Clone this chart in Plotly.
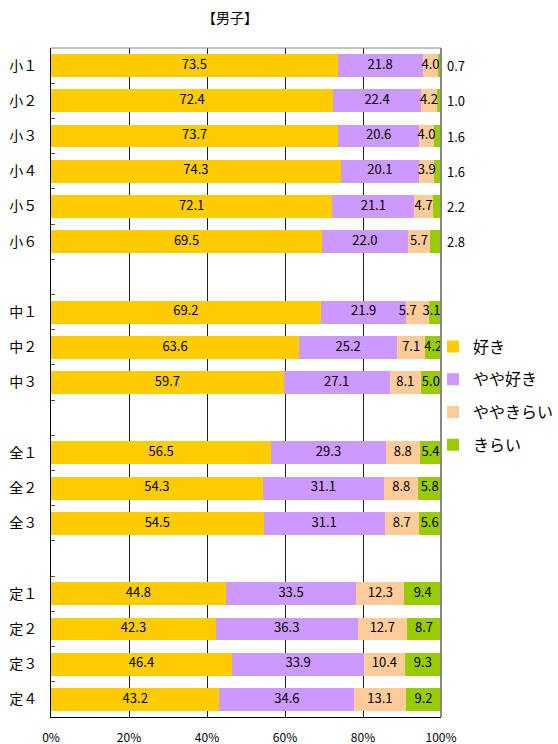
import plotly.graph_objects as go

# Category slots; blank names leave gaps between school stages
categories = ["小１", "小２", "小３", "小４", "小５", "小６", " ",
              "中１", "中２", "中３", "  ",
              "全１", "全２", "全３", "   ",
              "定１", "定２", "定３", "定４"]

series_names = ["好き", "やや好き", "ややきらい", "きらい"]
colors = ["#FFCC00", "#CC99FF", "#FFCC99", "#99CC00"]

suki = [73.5, 72.4, 73.7, 74.3, 72.1, 69.5, None, 69.2, 63.6, 59.7, None,
        56.5, 54.3, 54.5, None, 44.8, 42.3, 46.4, 43.2]
yaya_suki = [21.8, 22.4, 20.6, 20.1, 21.1, 22.0, None, 21.9, 25.2, 27.1, None,
             29.3, 31.1, 31.1, None, 33.5, 36.3, 33.9, 34.6]
yaya_kirai = [4.0, 4.2, 4.0, 3.9, 4.7, 5.7, None, 5.7, 7.1, 8.1, None,
              8.8, 8.8, 8.7, None, 12.3, 12.7, 10.4, 13.1]
kirai = [0.7, 1.0, 1.6, 1.6, 2.2, 2.8, None, 3.1, 4.2, 5.0, None,
         5.4, 5.8, 5.6, None, 9.4, 8.7, 9.3, 9.2]

x_ticks = [0, 20, 40, 60, 80, 100]
x_tick_labels = ["0%", "20%", "40%", "60%", "80%", "100%"]

all_series = [suki, yaya_suki, yaya_kirai, kirai]
font_jp = "Noto Sans CJK JP"
LABEL_SIZE = 13
OUTSIDE_LIMIT = 3.0  # segments narrower than this get their label past the bar end
# Small horizontal nudges (in % units) for labels that would otherwise collide
label_nudge = {("ややきらい", "中１"): -2.5, ("きらい", "中１"): -0.8}

fig = go.Figure()

for i, (name, vals, col) in enumerate(zip(series_names, all_series, colors)):
    fig.add_trace(go.Bar(
        y=categories, x=vals, name=name, orientation="h",
        marker=dict(color=col, line=dict(width=0)),
        textposition="none", legendgroup=name, hoverinfo="x+name",
    ))

# Value labels at segment centres (computed from the cumulative sums)
outside_notes = []
base = [0.0] * len(categories)
for i, vals in enumerate(all_series):
    name = series_names[i]
    xs_in, ys_in, ts_in = [], [], []
    for k, v in enumerate(vals):
        if v is None:
            continue
        cat = categories[k]
        if i == len(all_series) - 1 and v < OUTSIDE_LIMIT:
            # thin segment: label sits just past the right edge of the plot
            outside_notes.append(dict(
                x=1, y=cat, xref="x domain", yref="y", text=f"{v:.1f}",
                showarrow=False, xanchor="left", yanchor="middle", xshift=4,
                font=dict(family=font_jp, size=LABEL_SIZE, color="#000000"),
            ))
        else:
            xs_in.append(base[k] + v / 2 + label_nudge.get((name, cat), 0.0))
            ys_in.append(cat)
            ts_in.append(f"{v:.1f}")
        base[k] += v
    fig.add_trace(go.Scatter(
        x=xs_in, y=ys_in, text=ts_in, mode="text", textposition="middle center",
        textfont=dict(family=font_jp, size=LABEL_SIZE, color="#000000"),
        showlegend=False, hoverinfo="skip", cliponaxis=False,
    ))

fig.update_layout(
    width=558, height=744,
    margin=dict(l=51, r=117, t=48, b=27, autoexpand=False),
    paper_bgcolor="white", plot_bgcolor="white",
    barmode="stack", bargap=0.35,
    font=dict(family=font_jp, color="#000000"),
    title=dict(text="【男子】", x=230 / 558, xanchor="center", xref="container",
               y=1 - 18 / 744, yanchor="middle", yref="container",
               font=dict(family=font_jp, size=14, color="#000000")),
    legend=dict(x=433 / 558, xanchor="left", xref="container",
                y=1 - 396 / 744, yanchor="middle", yref="container",
                traceorder="grouped", tracegroupgap=9, itemwidth=30,
                font=dict(family=font_jp, size=16, color="#000000"),
                bgcolor="rgba(0,0,0,0)"),
    showlegend=True,
    annotations=outside_notes,
)

fig.update_xaxes(
    range=[0, 100], tickvals=x_ticks, ticktext=x_tick_labels,
    showgrid=True, gridcolor="#222222", gridwidth=1,
    showline=True, linecolor="#000000", linewidth=1,
    zeroline=False, ticks="", tickfont=dict(family=font_jp, size=12),
    ticklabelstandoff=10, fixedrange=True,
)
fig.update_yaxes(
    categoryorder="array", categoryarray=categories,
    range=[len(categories) - 0.5, -0.5],
    showline=True, linecolor="#000000", linewidth=1,
    showgrid=False, zeroline=False,
    ticks="inside", tickson="boundaries", ticklen=4, tickcolor="#555555",
    tickfont=dict(family=font_jp, size=14), ticklabelstandoff=10,
    fixedrange=True,
)

# Grey plot-area border (top and right edges)
fig.add_shape(type="line", xref="paper", yref="paper", x0=0, x1=1, y0=1, y1=1,
              line=dict(color="#888888", width=1), layer="above")
fig.add_shape(type="line", xref="paper", yref="paper", x0=1, x1=1, y0=0, y1=1,
              line=dict(color="#888888", width=2), layer="above")

fig.write_html("out.html")
